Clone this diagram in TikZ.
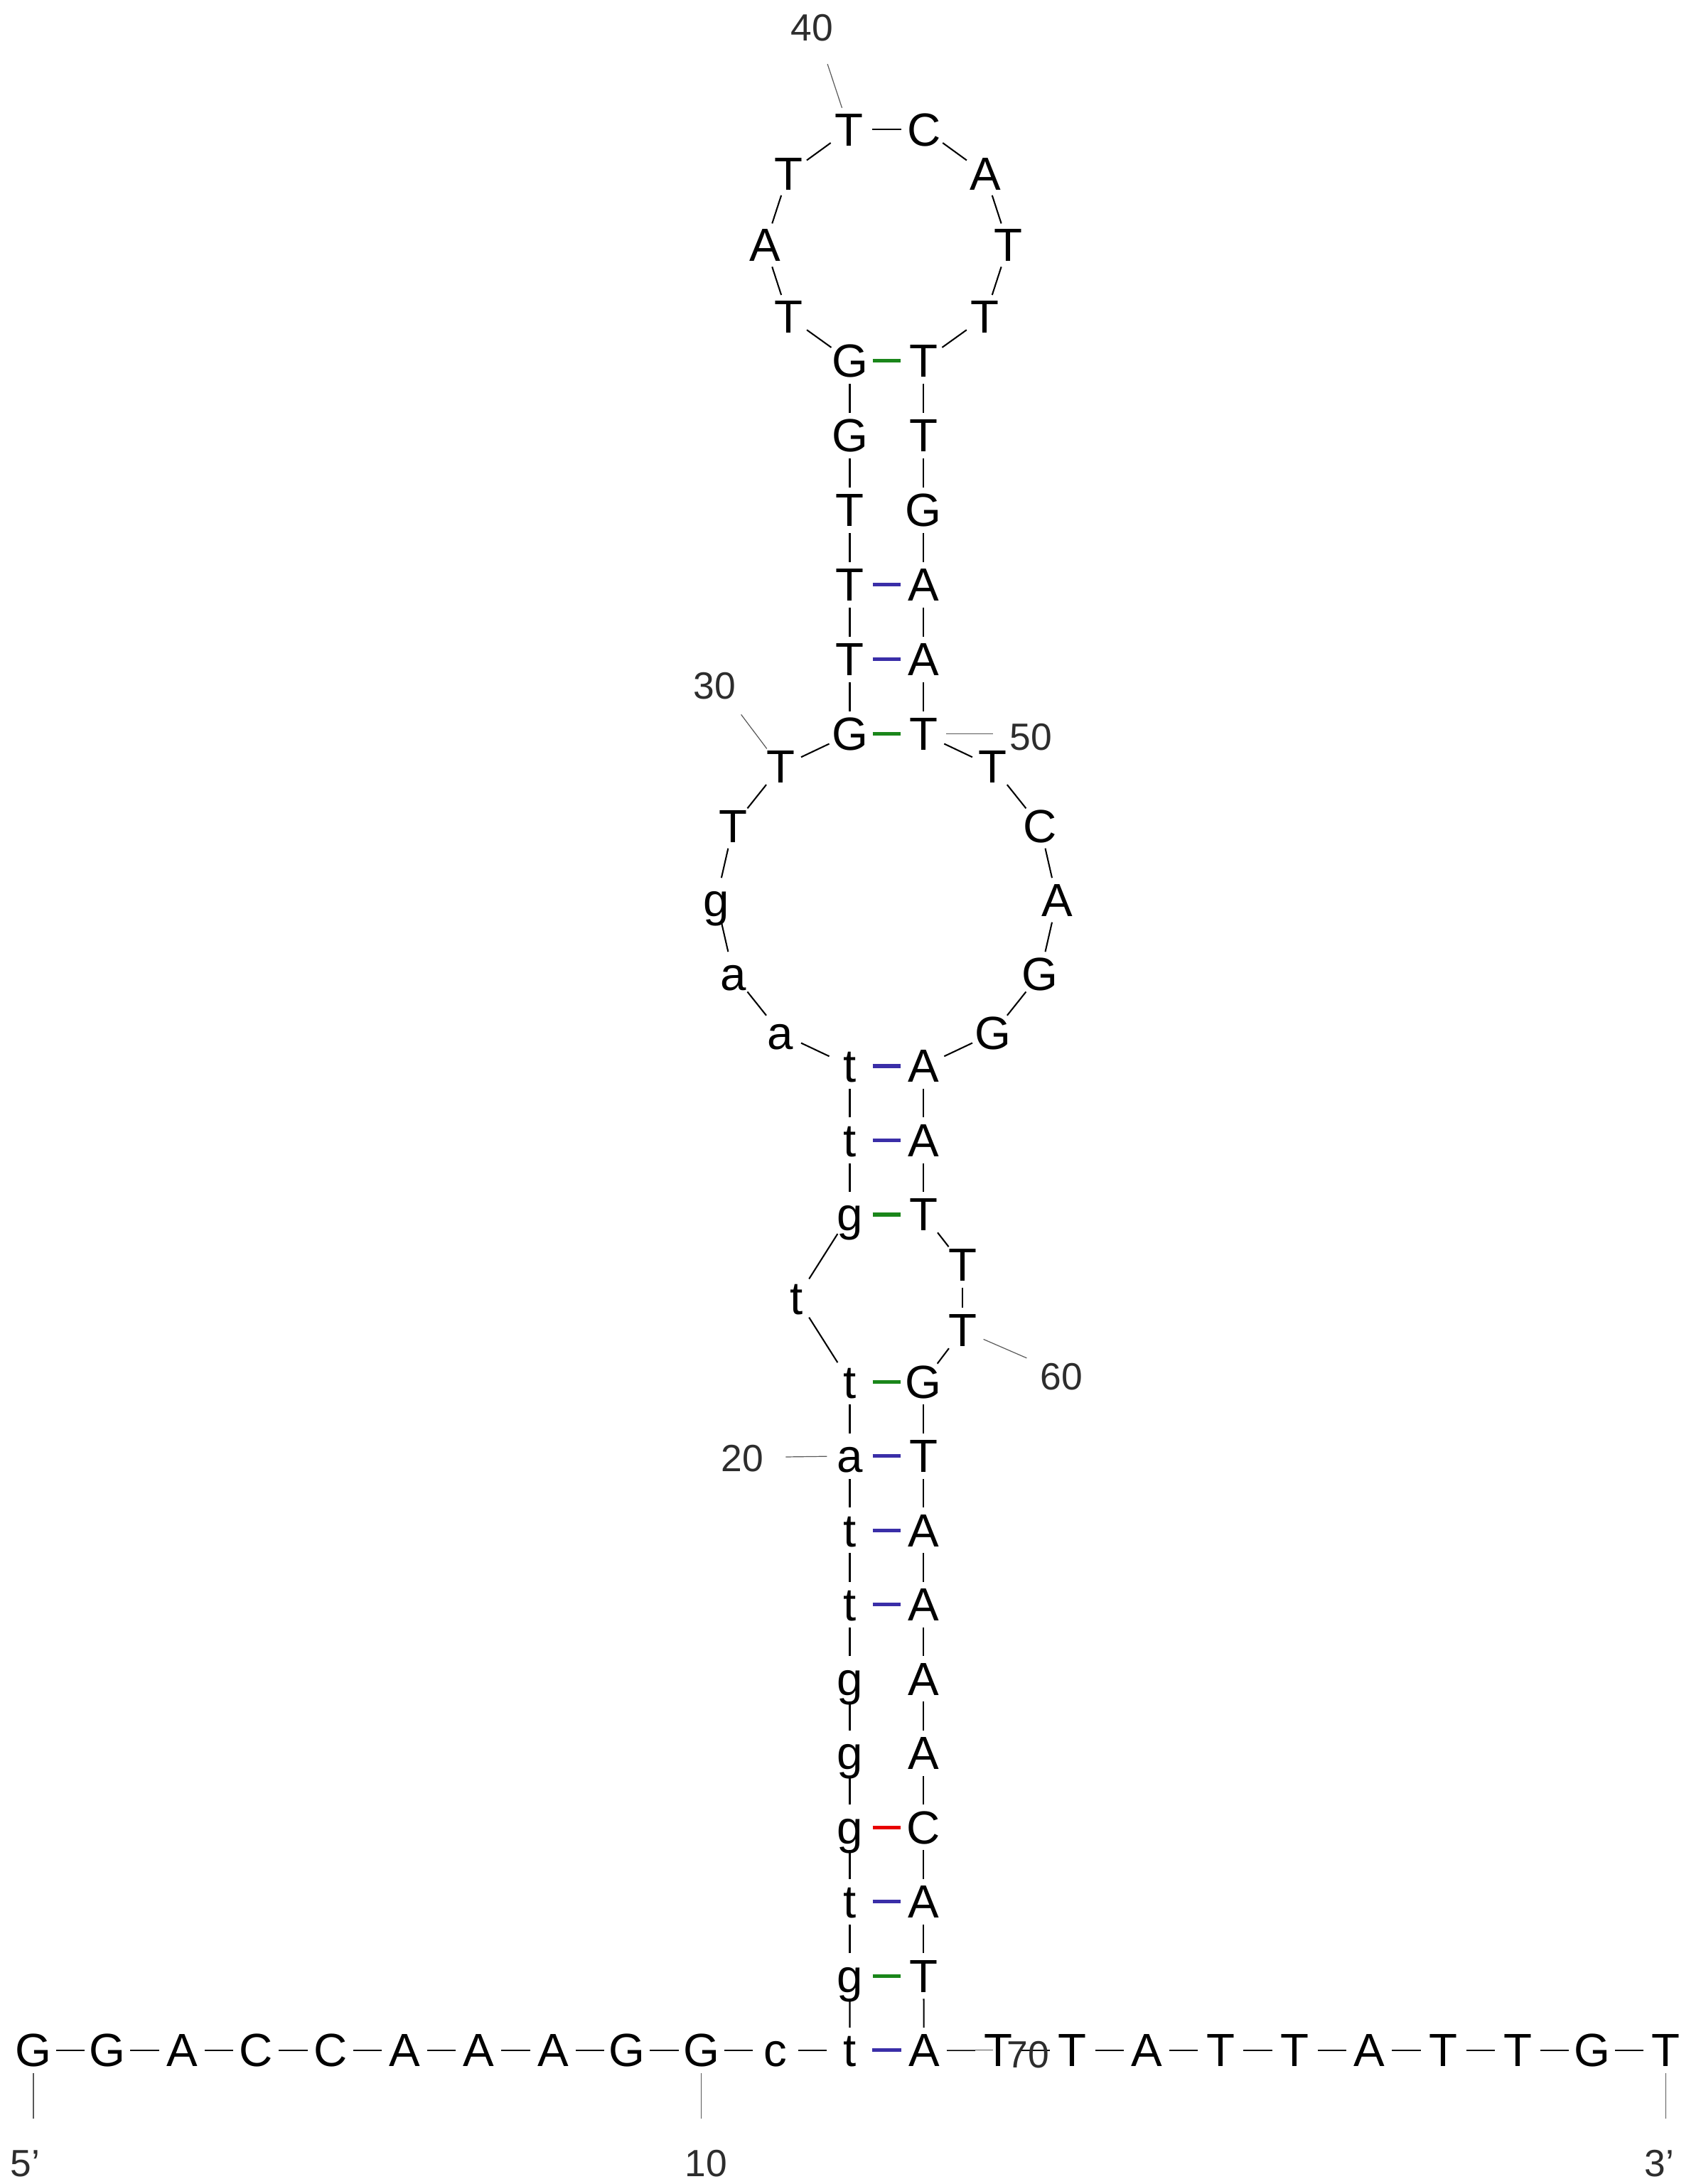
\documentclass[tikz,border=0pt]{standalone}
\usepackage{fontspec}
\setmainfont{Liberation Sans}
\usetikzlibrary{calc}
\definecolor{pairblue}{RGB}{58,46,168}
\definecolor{pairgreen}{RGB}{26,134,26}
\definecolor{pairred}{RGB}{232,0,0}
\definecolor{idxgray}{RGB}{45,45,45}
\tikzset{
  nuc/.style={
    shape = circle,
    inner sep = 0pt,
    minimum size = 0.64cm,
    text height = 13.3pt,
    text depth = 0pt,
    font = \fontsize{19}{21}\selectfont,
    execute at begin node = {\hbox to 0pt\bgroup\hss},
    execute at end node = {\hss\egroup}
  },
}
\tikzset{
  idx/.style={
    inner sep = 0pt,
    text height = 10.9pt,
    text depth = 0pt,
    text = idxgray,
    font = \fontsize{15.5}{17}\selectfont
  },
  tick/.style={
    draw = black!65,
    line width = 0.35pt
  },
  bbone/.style={
    line width = 0.6pt
  },
  wc/.style={
    draw = pairblue,
    line width = 1.5pt
  },
  wobble/.style={
    draw = pairgreen,
    line width = 1.5pt
  },
  gc/.style={
    draw = pairred,
    line width = 1.5pt
  }
}

\begin{document}
\begin{tikzpicture}[x=0.02cm, y=-0.02cm]
\useasboundingbox (0,0) rectangle (1221,1568);
\def\Step{53.33}
\def\xL{610}
\def\xR{663}
\def\yRow{1472}
\def\cx{636.5}

% open tails
\foreach \i/\b in {1/G,2/G,3/A,4/C,5/C,6/A,7/A,8/A,9/G,10/G,11/c,12/t}
  \node[nuc] (n\i) at ({24+(\i-1)*53.27},\yRow) {\b};
\foreach \i/\b in {70/A,71/T,72/T,73/A,74/T,75/T,76/A,77/T,78/T,79/G,80/T}
  \node[nuc] (n\i) at ({24+(\i-58)*53.27},\yRow) {\b};

% stem 1
\foreach \i/\b in {13/g,14/t,15/g,16/g,17/g,18/t,19/t,20/a,21/t}
  \node[nuc] (n\i) at (\xL,{\yRow-(\i-12)*\Step}) {\b};
\foreach \i/\b in {61/G,62/T,63/A,64/A,65/A,66/A,67/C,68/A,69/T}
  \node[nuc] (n\i) at (\xR,{\yRow-(70-\i)*\Step}) {\b};

% small interior loop
\node[nuc] (n22) at (572,932) {t};
\node[nuc] (n59) at (691,908) {T};
\node[nuc] (n60) at (691,955) {T};

% stem 2
\foreach \i/\b in {23/g,24/t,25/t}
  \node[nuc] (n\i) at (\xL,{872-(\i-23)*\Step}) {\b};
\foreach \i/\b in {58/T,57/A,56/A}
  \node[nuc] (n\i) at (\xR,{872-(58-\i)*\Step}) {\b};

% large interior loop
\foreach \i/\b in {26/a,27/a,28/g,29/T,30/T}
  \node[nuc] (n\i) at ({\cx+122.3*sin(-141.43+(\i-26)*25.714)},{646.2-122.3*cos(-141.43+(\i-26)*25.714)}) {\b};
\foreach \i/\b in {51/T,52/C,53/A,54/G,55/G}
  \node[nuc] (n\i) at ({\cx+122.3*sin(38.57+(\i-51)*25.714)},{646.2-122.3*cos(38.57+(\i-51)*25.714)}) {\b};

% stem 3
\foreach \i/\b in {31/G,32/T,33/T,34/T,35/G,36/G}
  \node[nuc] (n\i) at (\xL,{527-(\i-31)*53.6}) {\b};
\foreach \i/\b in {50/T,49/A,48/A,47/G,46/T,45/T}
  \node[nuc] (n\i) at (\xR,{527-(50-\i)*53.6}) {\b};

% hairpin
\foreach \i/\b in {37/T,38/A,39/T,40/T,41/C,42/A,43/T,44/T}
  \node[nuc] (n\i) at ({\cx+87.3*sin(-126+(\i-37)*36)},{176-87.3*cos(-126+(\i-37)*36)}) {\b};

% backbone
\foreach \i [evaluate=\i as \j using int(\i+1)] in {1,...,79}
  \draw[bbone] (n\i) -- (n\j);

% base pairs
\foreach \i/\j in {12/70,14/68,18/64,19/63,20/62,24/57,25/56,32/49,33/48}
  \draw[wc] (n\i) -- (n\j);
\foreach \i/\j in {13/69,21/61,23/58,31/50,36/45}
  \draw[wobble] (n\i) -- (n\j);
\draw[gc] (n15) -- (n67);

% numbering
\coordinate (t5) at ($(n1)+(0,49)$);
\coordinate (t10) at ($(n10)+(0,49)$);
\coordinate (t3) at ($(n80)+(0,49)$);
\coordinate (t20) at (564,1046);
\coordinate (t30) at (532,513);
\coordinate (t40) at (594,46);
\coordinate (t50) at (713,527);
\coordinate (t60) at (737,975);
\coordinate (t70) at (713,1472);
\foreach \k/\m in {5/1,10/10,3/80,20/20,30/30,40/40,50/50,60/60,70/70}
  \draw[tick] (n\m) -- (t\k);

\node[idx] (l5) at (18,1553) {5’};
\node[idx] (l10) at (507,1553) {10};
\node[idx] (l3) at (1191,1553) {3’};
\node[idx] (l20) at (533,1047) {20};
\node[idx] (l30) at (513,492) {30};
\node[idx] (l40) at (583,20) {40};
\node[idx] (l50) at (740,529) {50};
\node[idx] (l60) at (762,988) {60};
\node[idx] (l70) at (738,1475) {70};
\end{tikzpicture}
\end{document}
